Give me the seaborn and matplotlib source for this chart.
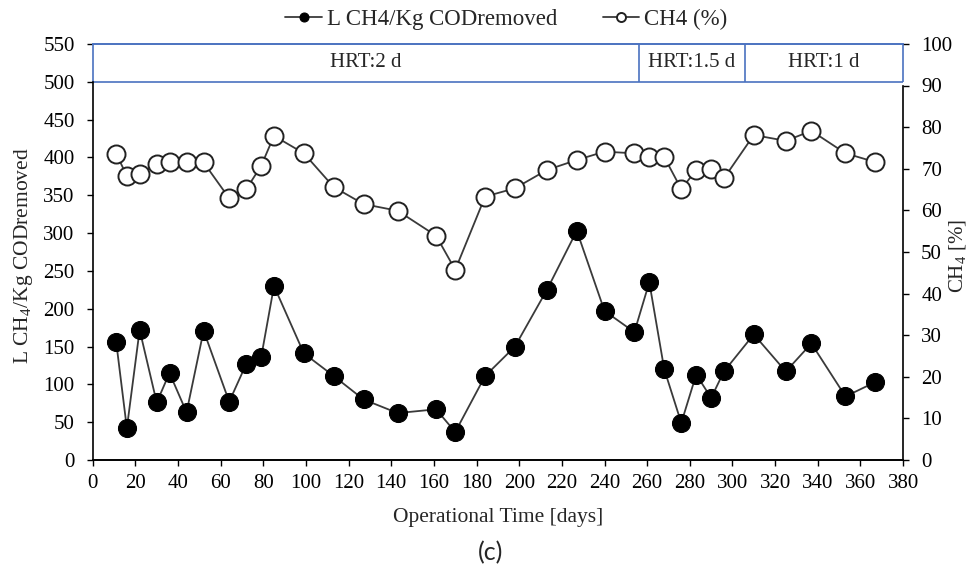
import matplotlib
matplotlib.use('Agg')
import matplotlib.pyplot as plt
import seaborn as sns
import numpy as np

# values
days = [11, 16, 22, 30, 36, 44, 52, 64, 72, 79, 85, 99, 113, 127,
        143, 161, 170, 184, 198, 213, 227, 240, 254, 261, 268,
        276, 283, 290, 296, 310, 325, 337, 353, 367]
ch4_yield = [156, 42, 172, 76, 115, 63, 171, 77, 127, 136, 230, 141, 111, 80,
             62, 67, 37, 111, 150, 225, 303, 197, 169, 235, 120,
             49, 113, 82, 117, 166, 117, 154, 84, 103]
ch4_pct = [73.6, 68.3, 68.8, 71.2, 71.5, 71.5, 71.5, 62.9, 65.1, 70.7, 77.9, 73.7, 65.6, 61.5,
           59.9, 53.9, 45.7, 63.3, 65.3, 69.7, 72.1, 74.1, 73.7, 72.7, 72.8,
           65.1, 69.7, 70.0, 67.7, 78.1, 76.7, 79.1, 73.7, 71.6]

hrt_labels = ['HRT:2 d', 'HRT:1.5 d', 'HRT:1 d']
hrt_edges = [0, 256, 306, 380]

sns.set_style('ticks')
plt.rcParams['font.family'] = ['Liberation Serif', 'DejaVu Serif']
plt.rcParams['mathtext.fontset'] = 'custom'
plt.rcParams['mathtext.rm'] = 'Liberation Serif'
plt.rcParams['font.size'] = 15

blue = '#4a72c0'
line_col = '#3a3a3a'

fig, ax = plt.subplots(figsize=(9.7, 5.7), dpi=100)
fig.subplots_adjust(left=0.0956, right=0.931, bottom=0.193, top=0.923)
ax2 = ax.twinx()

sns.lineplot(x=days, y=ch4_yield, ax=ax, color=line_col, lw=1.3, marker='o',
             markersize=13, markerfacecolor='black', markeredgecolor='black',
             label='L CH4/Kg CODremoved', legend=False)
sns.lineplot(x=days, y=ch4_pct, ax=ax2, color=line_col, lw=1.3, marker='o',
             markersize=13, markerfacecolor='white', markeredgecolor='#222222',
             markeredgewidth=1.4, label='CH4 (%)', legend=False)

ax.set_xlim(0, 380)
ax.set_ylim(0, 550)
ax2.set_ylim(0, 100)
ax.set_xticks(np.arange(0, 381, 20))
ax.set_yticks(np.arange(0, 551, 50))
ax2.set_yticks(np.arange(0, 101, 10))

ax.set_xlabel('Operational Time [days]', fontsize=15.5, labelpad=11)
ax.set_ylabel(r'L CH$_\mathregular{4}$/Kg CODremoved', fontsize=15.5)
ax2.set_ylabel(r'CH$_\mathregular{4}$ [%]', fontsize=15)
ax.yaxis.set_label_coords(-0.071, 0.49)
ax2.yaxis.set_label_coords(1.055, 0.49)

for a in (ax, ax2):
    a.tick_params(direction='out', length=4, width=1, colors='black', labelsize=15, pad=9)
    for s in a.spines.values():
        s.set_color('black')
        s.set_linewidth(1.2)
ax.tick_params(axis='x', pad=6)

# HRT band on top
ax.spines['left'].set_bounds(0, 500)
ax2.spines['right'].set_bounds(0, 90)
ax.spines['right'].set_visible(False)
ax2.spines['left'].set_visible(False)
ax2.spines['top'].set_color(blue)
ax.spines['top'].set_color(blue)
ax.hlines(500, 0, 380, color=blue, lw=1.2, clip_on=False)
ax.vlines(hrt_edges, 500, 550, color=blue, lw=1.2, clip_on=False)
for i, lab in enumerate(hrt_labels):
    ax.text((hrt_edges[i] + hrt_edges[i + 1]) / 2, 525, lab, ha='center', va='center', fontsize=15)

h1, l1 = ax.get_legend_handles_labels()
h2, l2 = ax2.get_legend_handles_labels()
fig.legend(h1 + h2, l1 + l2, loc='center', bbox_to_anchor=(0.522, 0.966), ncol=2,
           frameon=False, markerscale=0.5, handlelength=1.6, columnspacing=2.0,
           handletextpad=0.2, fontsize=16.5)

fig.text(0.506, 0.03, '(c)', ha='center', va='center', fontsize=18, family=['Lato', 'DejaVu Sans'])

fig.savefig('out.png', dpi=100)
